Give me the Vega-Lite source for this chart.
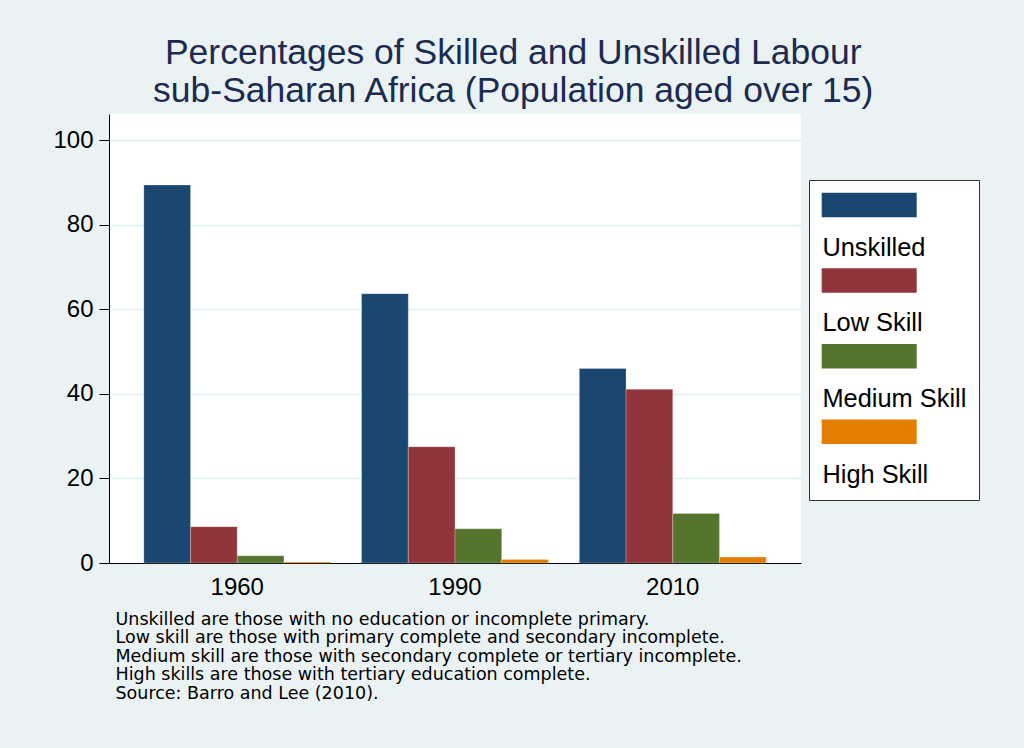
{
  "$schema": "https://vega.github.io/schema/vega-lite/v6.json",
  "width": 692,
  "height": 449,
  "autosize": {"type": "none"},
  "padding": {"left": 109, "top": 114, "right": 223, "bottom": 185},
  "background": "#EAF2F3",
  "title": {
    "text": ["Percentages of Skilled and Unskilled Labour", "sub-Saharan Africa (Population aged over 15)"],
    "fontSize": 35.5,
    "fontWeight": "normal",
    "font": "Liberation Sans",
    "color": "#1C2B4F",
    "lineHeight": 37.5,
    "anchor": "middle",
    "frame": "bounds",
    "offset": 5,
    "dx": -3
  },
  "data": {
    "values": [
      {"year": "1960", "skill": "Unskilled", "pct": 89.4},
      {"year": "1960", "skill": "Low Skill", "pct": 8.6},
      {"year": "1960", "skill": "Medium Skill", "pct": 1.7},
      {"year": "1960", "skill": "High Skill", "pct": 0.25},
      {"year": "1990", "skill": "Unskilled", "pct": 63.7},
      {"year": "1990", "skill": "Low Skill", "pct": 27.5},
      {"year": "1990", "skill": "Medium Skill", "pct": 8.1},
      {"year": "1990", "skill": "High Skill", "pct": 0.85},
      {"year": "2010", "skill": "Unskilled", "pct": 46.0},
      {"year": "2010", "skill": "Low Skill", "pct": 41.1},
      {"year": "2010", "skill": "Medium Skill", "pct": 11.7},
      {"year": "2010", "skill": "High Skill", "pct": 1.4}
    ]
  },
  "mark": {"type": "bar", "stroke": "#ffffff", "strokeOpacity": 0.25, "strokeWidth": 1},
  "encoding": {
    "x": {
      "field": "year",
      "type": "nominal",
      "scale": {"paddingInner": 0.142, "paddingOuter": 0.16},
      "axis": {
        "grid": false,
        "labelAngle": 0,
        "labelFontSize": 24,
        "labelColor": "#000000",
        "labelPadding": 12,
        "ticks": false,
        "domainColor": "#000000",
        "domainWidth": 1,
        "title": [
          "Unskilled are those with no education or incomplete primary.",
          "Low skill are those with primary complete and secondary incomplete.",
          "Medium skill are those with secondary complete or tertiary incomplete.",
          "High skills are those with tertiary education complete.",
          "Source: Barro and Lee (2010)."
        ],
        "titleFont": "DejaVu Sans",
        "titleFontSize": 17.5,
        "titleFontWeight": "normal",
        "titleColor": "#000000",
        "titleAlign": "left",
        "titleAnchor": "start",
        "titleBaseline": "alphabetic",
        "titleX": 6,
        "titleY": 61,
        "titleLineHeight": 18.5
      }
    },
    "xOffset": {
      "field": "skill",
      "type": "nominal",
      "sort": ["Unskilled", "Low Skill", "Medium Skill", "High Skill"],
      "scale": {"paddingInner": 0, "paddingOuter": 0}
    },
    "y": {
      "field": "pct",
      "type": "quantitative",
      "scale": {"domain": [0, 106.2], "nice": false, "zero": true},
      "axis": {
        "title": null,
        "grid": true,
        "values": [0, 20, 40, 60, 80, 100],
        "labelFontSize": 24,
        "labelColor": "#000000",
        "labelPadding": 6,
        "tickSize": 10,
        "tickColor": "#000000",
        "domainColor": "#000000",
        "gridColor": "#E4EDEF",
        "gridWidth": 1.5
      }
    },
    "color": {
      "field": "skill",
      "type": "nominal",
      "sort": ["Unskilled", "Low Skill", "Medium Skill", "High Skill"],
      "scale": {
        "domain": ["Unskilled", "Low Skill", "Medium Skill", "High Skill"],
        "range": ["#1A476F", "#90353B", "#55752F", "#E37E00"]
      },
      "legend": {
        "title": " ",
        "titleFontSize": 1,
        "titlePadding": 50,
        "orient": "none",
        "legendX": 700,
        "legendY": 66,
        "direction": "vertical",
        "labelFontSize": 25.4,
        "labelColor": "#000000",
        "labelBaseline": "alphabetic",
        "labelOffset": -24,
        "symbolType": "M-1.2,-6.3H8.3V-3.85H-1.2Z",
        "symbolSize": 400,
        "symbolStrokeWidth": 0,
        "symbolOpacity": 1,
        "rowPadding": 5.6,
        "padding": 12,
        "strokeColor": "#333333",
        "fillColor": "#FFFFFF"
      }
    }
  },
  "config": {
    "font": "Liberation Sans",
    "view": {"stroke": null, "fill": "#FFFFFF"}
  }
}
